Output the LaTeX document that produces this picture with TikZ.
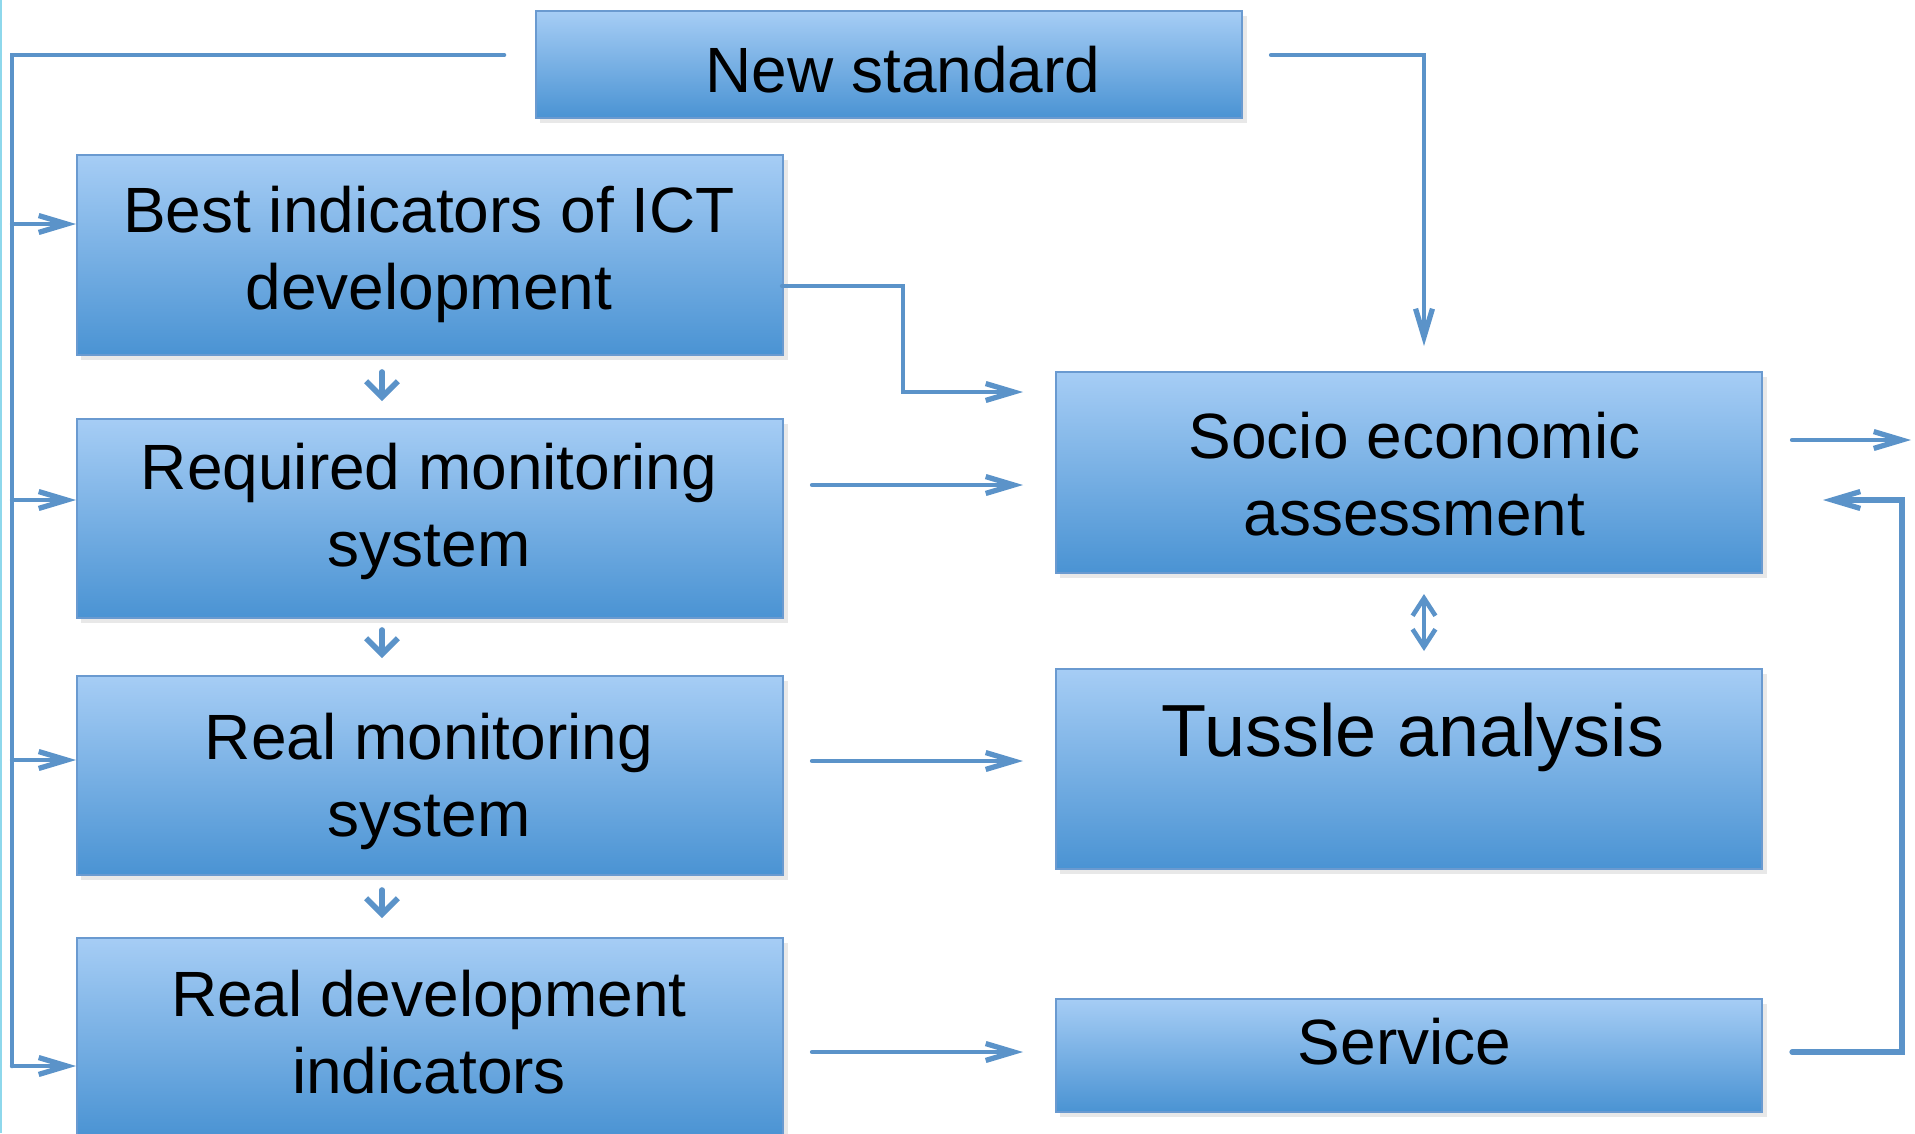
\documentclass[tikz,border=0pt]{standalone}
\usepackage{fontspec}
\setmainfont{Liberation Sans}
\usetikzlibrary{arrows.meta,shadows}

\definecolor{boxtop}{HTML}{A6CDF5}
\definecolor{boxbot}{HTML}{4A93D3}
\definecolor{boxedge}{HTML}{6A9AD0}
\definecolor{link}{HTML}{5B93C9}
\definecolor{edgecyan}{HTML}{8ED8EC}

\tikzset{
  x=0.01cm, y=-0.01cm,
  box/.style={draw=boxedge, line width=0.5pt, top color=boxtop, bottom color=boxbot,
    anchor=north west, inner sep=0pt, minimum width=7.06cm,
    drop shadow={shadow xshift=1.2pt, shadow yshift=-1.4pt, opacity=0.18}},
  label/.style={align=center, inner sep=0pt, font=\fontsize{18.2}{21.9}\selectfont},
  conn/.style={draw=link, line width=1.2pt, line cap=round,
    -{Straight Barb[length=8pt,width=4.8pt,line width=1.5pt]}},
  plain/.style={draw=link, line width=1.2pt, line cap=round},
  stub/.style={draw=link, line width=1.6pt, line cap=round,
    -{Straight Barb[length=4.5pt,width=9pt,line width=1.6pt]}},
  twoway/.style={draw=link, line width=1.3pt,
    {Straight Barb[length=5pt,width=6.5pt]}-{Straight Barb[length=5pt,width=6.5pt]}},
}

\begin{document}
\begin{tikzpicture}
\useasboundingbox (0,0) rectangle (1915,1133);
\clip (0,0) rectangle (1915,1133);
\fill[white] (0,0) rectangle (1915,1133);
\draw[edgecyan, line width=0.6pt] (1,0) -- (1,1133);

% boxes
\node[box, minimum height=1.07cm] (ns) at (535,10) {};
\node[box, minimum height=2.00cm] (best) at (76,154) {};
\node[box, minimum height=1.99cm] (req) at (76,418) {};
\node[box, minimum height=1.99cm] (rmon) at (76,675) {};
\node[box, minimum height=1.99cm] (rdev) at (76,937) {};
\node[box, minimum height=2.01cm] (socio) at (1055,371) {};
\node[box, minimum height=2.00cm] (tussle) at (1055,668) {};
\node[box, minimum height=1.13cm] (serv) at (1055,998) {};

% box captions
\node[label] (nsT) at (903,70) {New standard};
\node[label] (bestT) at (429,254) {Best indicators of ICT\\development};
\node[label] (reqT) at (429,511.5) {Required monitoring\\system};
\node[label] (rmonT) at (429,781.5) {Real monitoring\\system};
\node[label] (rdevT) at (429,1032.5) {Real development\\indicators};
\node[label] (socioT) at (1414.5,474) {Socio economic\\assessment};
\node[label, font=\fontsize{21}{25}\selectfont] (tussleT) at (1413,737) {Tussle analysis};
\node[label] (servT) at (1404.5,1041.5) {Service};

% left distribution bus
\coordinate (busA) at (504,55);
\coordinate (busB) at (12,55);
\coordinate (busC) at (12,1066);
\coordinate (tapBest) at (12,224);
\coordinate (tapReq) at (12,500);
\coordinate (tapMon) at (12,760);
\draw[plain, line width=1.3pt] (busA) -- (busB) -- (busC);
\draw[conn] (busC) -- (busC -| rdev.west);
\draw[conn] (tapBest) -- (tapBest -| best.west);
\draw[conn] (tapReq) -- (tapReq -| req.west);
\draw[conn] (tapMon) -- (tapMon -| rmon.west);

% new standard to assessment
\coordinate (nsA) at (1271,55);
\coordinate (nsB) at (1424,55);
\coordinate (nsC) at (1424,346);
\draw[conn] (nsA) -- (nsB) -- (nsC);

% best indicators to assessment
\coordinate (biA) at (782,286);
\coordinate (biB) at (903,286);
\coordinate (biC) at (903,392);
\coordinate (biD) at (1023,392);
\draw[conn] (biA) -- (biB) -- (biC) -- (biD);

% straight links
\coordinate (rqA) at (812,485);
\coordinate (rqB) at (1023,485);
\draw[conn] (rqA) -- (rqB);
\coordinate (rmA) at (812,761);
\coordinate (rmB) at (1023,761);
\draw[conn] (rmA) -- (rmB);
\coordinate (rdA) at (812,1052);
\coordinate (rdB) at (1023,1052);
\draw[conn] (rdA) -- (rdB);

% short steps down the left column
\coordinate (s1a) at (382,372); \coordinate (s1b) at (382,401);
\coordinate (s2a) at (382,630); \coordinate (s2b) at (382,658);
\coordinate (s3a) at (382,890); \coordinate (s3b) at (382,918);
\draw[stub] (s1a) -- (s1b);
\draw[stub] (s2a) -- (s2b);
\draw[stub] (s3a) -- (s3b);

% assessment <-> tussle
\coordinate (tw1) at (1424,594);
\coordinate (tw2) at (1424,651);
\draw[twoway] (tw1) -- (tw2);

% assessment output
\coordinate (outA) at (1792,440);
\coordinate (outB) at (1911,440);
\draw[conn] (outA) -- (outB);

% service feedback loop
\coordinate (fbA) at (1792,1052);
\coordinate (fbB) at (1902,1052);
\coordinate (fbC) at (1902,500);
\coordinate (fbD) at (1823,500);
\draw[conn, line width=1.5pt] (fbA) -- (fbB) -- (fbC) -- (fbD);
\end{tikzpicture}
\end{document}
